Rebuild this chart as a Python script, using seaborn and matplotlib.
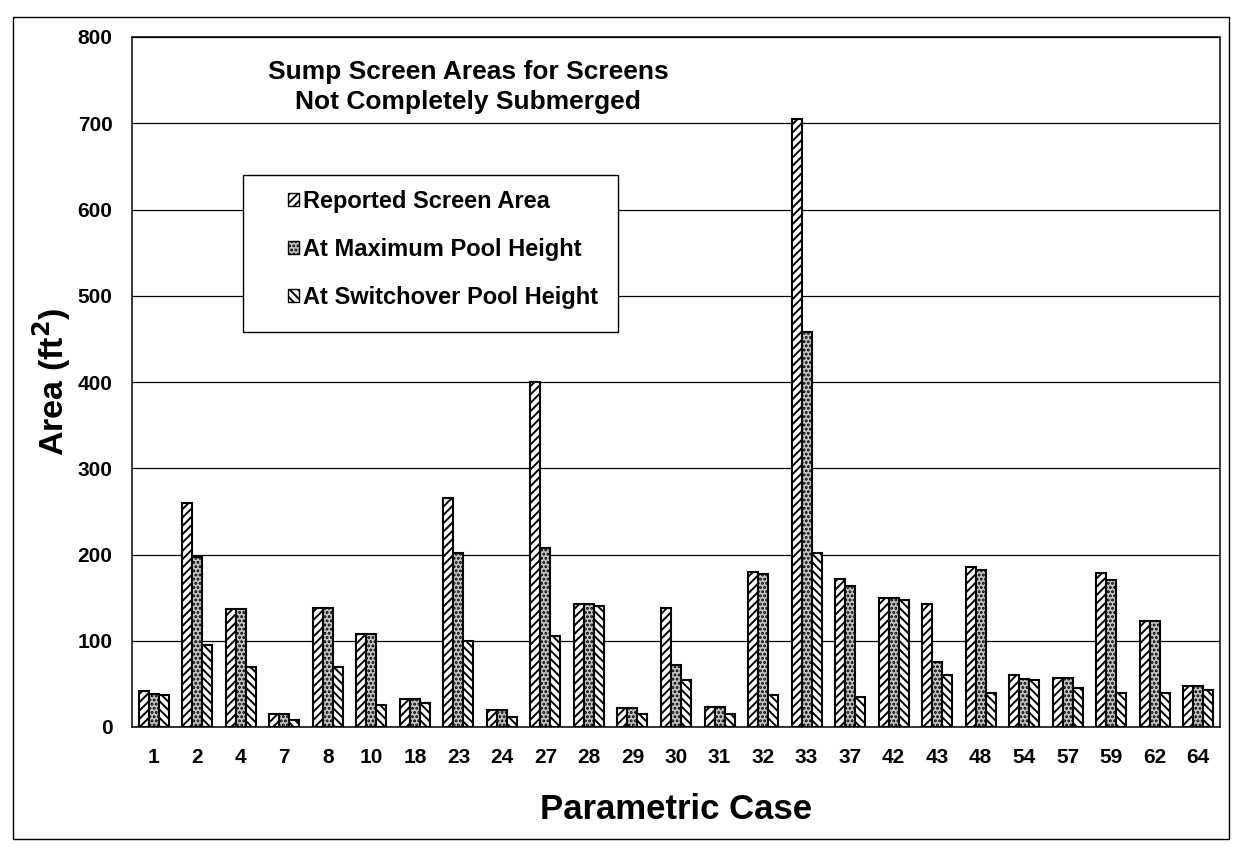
import matplotlib
matplotlib.use("Agg")
import matplotlib.pyplot as plt
import seaborn as sns
import pandas as pd
from matplotlib.patches import Rectangle, Patch

cases = ["1", "2", "4", "7", "8", "10", "18", "23", "24", "27", "28", "29", "30",
         "31", "32", "33", "37", "42", "43", "48", "54", "57", "59", "62", "64"]
reported = [42, 260, 137, 15, 138, 108, 33, 265, 20, 400, 143, 22, 138,
            23, 180, 705, 172, 150, 143, 185, 60, 57, 178, 123, 48]
max_pool = [38, 197, 137, 15, 138, 108, 33, 202, 20, 207, 143, 22, 72,
            23, 177, 458, 163, 150, 75, 182, 56, 57, 170, 123, 48]
switch_pool = [37, 95, 70, 8, 70, 25, 28, 100, 12, 105, 140, 15, 55,
               15, 37, 202, 35, 147, 60, 40, 55, 45, 40, 40, 43]
series = ["Reported Screen Area", "At Maximum Pool Height", "At Switchover Pool Height"]

df = pd.DataFrame({
    "case": cases * 3,
    "area": reported + max_pool + switch_pool,
    "series": [series[0]] * len(cases) + [series[1]] * len(cases) + [series[2]] * len(cases),
})

sns.set_theme(style="white")
plt.rcParams["font.family"] = ["Liberation Sans", "DejaVu Sans"]
plt.rcParams["hatch.linewidth"] = 1.4
plt.rcParams["text.color"] = "black"
plt.rcParams["axes.labelcolor"] = "black"
plt.rcParams["xtick.color"] = "black"
plt.rcParams["ytick.color"] = "black"

W, H = 1236, 848
fig = plt.figure(figsize=(W / 100, H / 100), dpi=100)
L, R, T, B = 132, 1220, 37, 727
ax = fig.add_axes([L / W, 1 - B / H, (R - L) / W, (B - T) / H])

styles = [("white", "////"), ("#c4c4c4", "...."), ("white", "\\\\\\\\")]
palette = {s: st[0] for s, st in zip(series, styles)}
sns.barplot(data=df, x="case", y="area", hue="series", order=cases, hue_order=series,
            palette=palette, width=0.69, edgecolor="black", linewidth=1.5,
            ax=ax, legend=False, saturation=1)

for cont, (fc, h) in zip(ax.containers, styles):
    for p in cont:
        p.set_hatch(h)
        p.set_facecolor(fc)
        p.set_edgecolor("black")

ax.set_ylim(0, 800)
ax.set_xlim(-0.5, len(cases) - 0.5)
ax.set_yticks(range(0, 801, 100))
ax.yaxis.grid(True, color="black", linewidth=0.9)
ax.set_axisbelow(True)
for s in ax.spines.values():
    s.set_color("black")
    s.set_linewidth(1.1)
ax.spines["right"].set_linestyle((0, (1, 1)))

ax.tick_params(axis="x", which="major", length=0, pad=15, labelsize=15)
ax.set_xticks([i + 0.5 for i in range(-1, len(cases))], minor=True)
ax.tick_params(axis="x", which="minor", length=6, width=1, color="black", direction="out")
ax.tick_params(axis="y", length=6, width=1, color="black", direction="out", labelsize=15, pad=8)
for lab in ax.get_xticklabels() + ax.get_yticklabels():
    lab.set_fontweight("bold")

ax.set_xlabel("Parametric Case", fontsize=25, fontweight="bold", labelpad=19)
ax.set_ylabel("Area (ft$^\\mathbf{2}$)", fontsize=24.5, fontweight="bold", labelpad=3)

fig.text(268 / W, 1 - 60 / H, "Sump Screen Areas for Screens\nNot Completely Submerged",
         ha="left", va="top", fontsize=19, fontweight="bold", linespacing=1.3,
         multialignment="center")

# legend box drawn as a separate frame, entries placed by matplotlib
ax.add_patch(Rectangle((243 / W, 1 - 332 / H), (618 - 243) / W, (332 - 175) / H,
                       transform=fig.transFigure, fill=True, facecolor="white",
                       edgecolor="black", linewidth=1.0, zorder=4, clip_on=False))
handles = [Patch(facecolor=fc, hatch=h, edgecolor="black", linewidth=1) for fc, h in styles]
leg = ax.legend(handles, series, loc="upper left",
                bbox_to_anchor=((288 - L) / (R - L), (B - 190) / (B - T)),
                frameon=False, fontsize=17,
                handlelength=0.45, handleheight=0.45, handletextpad=0.17,
                labelspacing=1.05, borderpad=0, borderaxespad=0)
leg.set_zorder(10)
for t in leg.get_texts():
    t.set_fontweight("bold")

fig.patches.append(Rectangle((13 / W, 1 - 839 / H), (1229 - 13) / W, (839 - 17) / H,
                             transform=fig.transFigure, fill=False, edgecolor="black",
                             linewidth=1.0))

fig.savefig("out.png", dpi=100, facecolor="white")
